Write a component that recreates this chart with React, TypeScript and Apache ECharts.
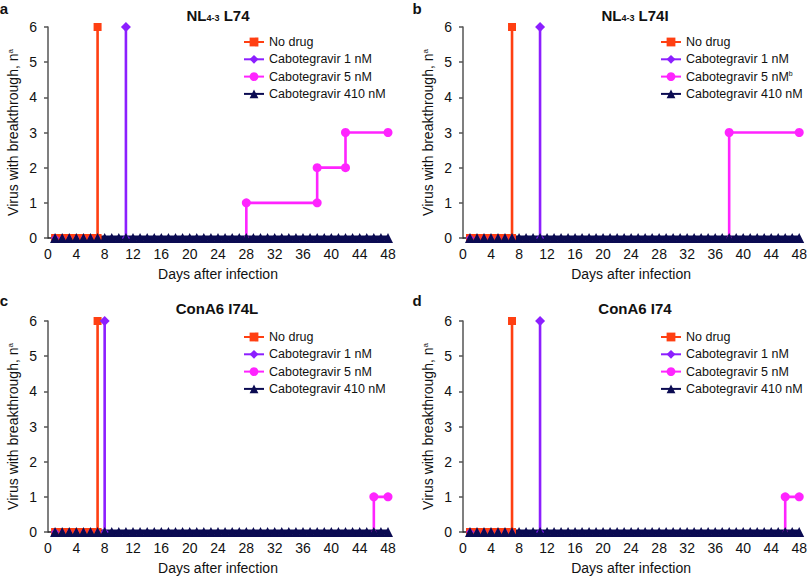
import React, { useEffect, useRef } from 'react';
import * as echarts from 'echarts';

type Pt = [number, number];

const seriesNames = ['No drug', 'Cabotegravir 1 nM', 'Cabotegravir 5 nM', 'Cabotegravir 410 nM'];
const panelLetters = ['a', 'b', 'c', 'd'];
const panelTitles = ['NL{sub|4-3} L74', 'NL{sub|4-3} L74I', 'ConA6 I74L', 'ConA6 I74'];

// Panel a: NL4-3 L74
const noDrugA: Pt[] = [[1, 0], [2, 0], [3, 0], [4, 0], [5, 0], [6, 0], [7, 0], [7, 6]];
const cab1A: Pt[] = [[1, 0], [11, 0], [11, 6]];
const cab5A: Pt[] = [[1, 0], [2, 0], [3, 0], [4, 0], [5, 0], [6, 0], [7, 0], [28, 0], [28, 1], [38, 1], [38, 2], [42, 2], [42, 3], [48, 3]];
// Panel b: NL4-3 L74I
const noDrugB: Pt[] = [[1, 0], [2, 0], [3, 0], [4, 0], [5, 0], [6, 0], [7, 0], [7, 6]];
const cab1B: Pt[] = [[1, 0], [11, 0], [11, 6]];
const cab5B: Pt[] = [[1, 0], [2, 0], [3, 0], [4, 0], [5, 0], [6, 0], [7, 0], [38, 0], [38, 3], [48, 3]];
// Panel c: ConA6 I74L
const noDrugC: Pt[] = [[1, 0], [2, 0], [3, 0], [4, 0], [5, 0], [6, 0], [7, 0], [7, 6]];
const cab1C: Pt[] = [[1, 0], [8, 0], [8, 6]];
const cab5C: Pt[] = [[1, 0], [2, 0], [3, 0], [4, 0], [5, 0], [6, 0], [7, 0], [46, 0], [46, 1], [48, 1]];
// Panel d: ConA6 I74
const noDrugD: Pt[] = [[1, 0], [2, 0], [3, 0], [4, 0], [5, 0], [6, 0], [7, 0], [7, 6]];
const cab1D: Pt[] = [[1, 0], [11, 0], [11, 6]];
const cab5D: Pt[] = [[1, 0], [2, 0], [3, 0], [4, 0], [5, 0], [6, 0], [7, 0], [46, 0], [46, 1], [48, 1]];
// Cabotegravir 410 nM: no breakthrough on any day (same in all panels)
const cab410Days = [1, 2, 3, 4, 5, 6, 7, 8, 9, 10, 11, 12, 13, 14, 15, 16, 17, 18, 19, 20, 21, 22, 23, 24, 25, 26, 27, 28, 29, 30, 31, 32, 33, 34, 35, 36, 37, 38, 39, 40, 41, 42, 43, 44, 45, 46, 47, 48];
const cab410Values = [0, 0, 0, 0, 0, 0, 0, 0, 0, 0, 0, 0, 0, 0, 0, 0, 0, 0, 0, 0, 0, 0, 0, 0, 0, 0, 0, 0, 0, 0, 0, 0, 0, 0, 0, 0, 0, 0, 0, 0, 0, 0, 0, 0, 0, 0, 0, 0];

const panelData: Pt[][][] = [
  [noDrugA, cab1A, cab5A],
  [noDrugB, cab1B, cab5B],
  [noDrugC, cab1C, cab5C],
  [noDrugD, cab1D, cab5D],
];

const FONT = '"Liberation Sans", Arial, Helvetica, sans-serif';
const colors = ['#FF3F12', '#8C1FFF', '#FF24FF', '#0B0B52'];
const symbols = ['rect', 'diamond', 'circle', 'triangle'];
const symbolSizes = [8, 10, 9, 10];
const baseSymbolSizes = [8, 8, 5, 10];
const lineWidths = [2.6, 2.6, 2.6, 5];

const grids = [
  { left: 48, top: 27, width: 340, height: 211 },
  { left: 463, top: 27, width: 340, height: 211 },
  { left: 48, top: 321, width: 340, height: 211 },
  { left: 463, top: 321, width: 340, height: 211 },
];
const titlePos = [[218, 15], [635, 15], [217, 308], [635, 308]];
const letterPos = [[4, 8], [417, 8], [4, 300], [417, 300]];
const legendPos = [[243, 35], [660, 35], [243, 330], [660, 330]];

export default function App() {
  const ref = useRef<HTMLDivElement>(null);
  useEffect(() => {
    if (!ref.current) return;
    const chart = echarts.init(ref.current, undefined, { renderer: 'svg' });
    const cab410: Pt[] = cab410Days.map((d, i) => [d, cab410Values[i]]);

    const series: any[] = [];
    for (let p = 0; p < 4; p++) {
      const sets = [...panelData[p], cab410];
      sets.forEach((data, s) => {
        series.push({
          type: 'line',
          name: seriesNames[s],
          xAxisIndex: p,
          yAxisIndex: p,
          data,
          clip: false,
          symbol: symbols[s],
          symbolSize: (v: number[]) => (v[1] === 0 ? baseSymbolSizes[s] : symbolSizes[s]),
          showSymbol: true,
          color: colors[s],
          itemStyle: { color: colors[s] },
          lineStyle: { color: colors[s], width: lineWidths[s] },
          emphasis: { disabled: true },
        });
      });
    }

    const option: any = {
      animation: false,
      textStyle: { fontFamily: FONT },
      grid: grids.map((g) => ({ ...g, containLabel: false })),
      xAxis: grids.map((_, i) => ({
        type: 'value',
        gridIndex: i,
        min: 0,
        max: 48,
        interval: 4,
        axisLine: { show: true, lineStyle: { color: '#222', width: 1.5 } },
        axisTick: { show: false },
        splitLine: { show: false },
        axisLabel: { fontSize: 14, color: '#111', margin: 9, fontFamily: FONT },
        name: 'Days after infection',
        nameLocation: 'middle',
        nameGap: 29,
        nameTextStyle: { fontSize: 14, color: '#111', fontFamily: FONT },
      })),
      yAxis: grids.map((_, i) => ({
        type: 'value',
        gridIndex: i,
        min: 0,
        max: 6,
        interval: 1,
        axisLine: { show: true, lineStyle: { color: '#555', width: 1.5 } },
        axisTick: { show: true, length: 4, lineStyle: { color: '#555', width: 1.5 } },
        splitLine: { show: false },
        axisLabel: { fontSize: 14, color: '#111', margin: 11, fontFamily: FONT },
        name: 'Virus with breakthrough, n{sup|a}',
        nameLocation: 'middle',
        nameGap: 28,
        nameRotate: 90,
        nameTextStyle: {
          fontSize: 14,
          color: '#111',
          fontFamily: FONT,
          rich: { sup: { fontSize: 8, verticalAlign: 'top', color: '#111', fontFamily: FONT } },
        },
      })),
      legend: legendPos.map(([l, t], i) => ({
        left: l,
        top: t,
        padding: 0,
        orient: 'vertical',
        itemWidth: 20,
        itemHeight: 11,
        itemGap: 3.3,
        selectedMode: false,
        data: seriesNames,
        textStyle: {
          fontSize: 12.5,
          lineHeight: 14,
          color: '#111',
          fontFamily: FONT,
          rich: {
            t: { fontSize: 12.5, color: '#111', fontFamily: FONT },
            sup: { fontSize: 7, color: '#111', verticalAlign: 'top', fontFamily: FONT },
          },
        },
        formatter:
          i === 1
            ? (n: string) => (n === 'Cabotegravir 5 nM' ? '{t|' + n + '}{sup|b}' : n)
            : (n: string) => n,
      })),
      graphic: [
        ...panelTitles.map((t, i) => ({
          type: 'text',
          x: titlePos[i][0],
          y: titlePos[i][1],
          style: {
            text: t,
            fontSize: 15,
            fontWeight: 'bold',
            fontFamily: FONT,
            fill: '#111',
            align: 'center',
            verticalAlign: 'middle',
            textAlign: 'center',
            textVerticalAlign: 'middle',
            rich: {
              sub: { fontSize: 9, fontWeight: 'bold', verticalAlign: 'bottom', fontFamily: FONT, fill: '#111' },
            },
          },
        })),
        ...panelLetters.map((t, i) => ({
          type: 'text',
          x: letterPos[i][0],
          y: letterPos[i][1],
          style: {
            text: t,
            fontSize: 15,
            fontWeight: 'bold',
            fontFamily: FONT,
            fill: '#111',
            align: 'center',
            verticalAlign: 'middle',
            textAlign: 'center',
            textVerticalAlign: 'middle',
          },
        })),
      ],
      series,
    };
    chart.setOption(option);
    return () => chart.dispose();
  }, []);

  return (
    <div
      ref={ref}
      style={{ position: 'fixed', left: 0, top: 0, width: 810, height: 578, background: '#fff' }}
    />
  );
}
